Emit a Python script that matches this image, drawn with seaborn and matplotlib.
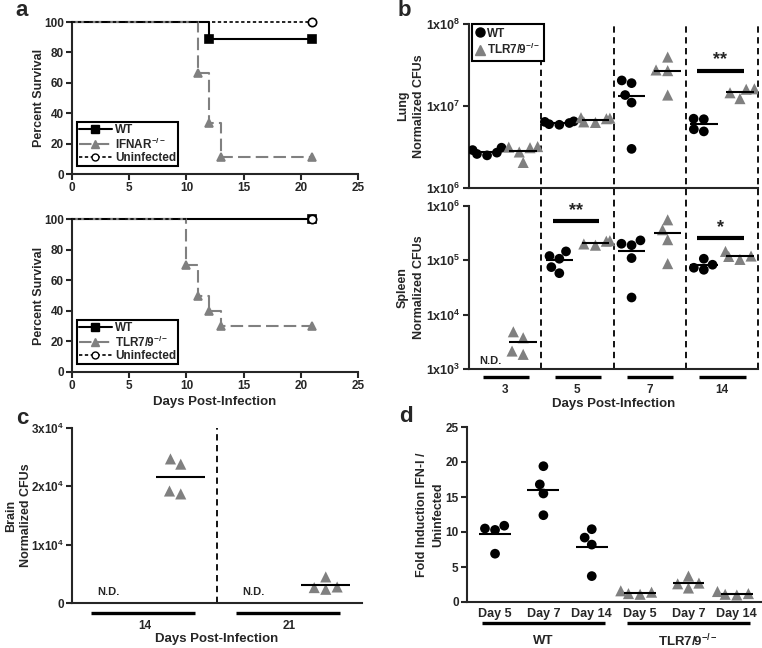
import matplotlib
matplotlib.use('Agg')
import matplotlib.pyplot as plt
import matplotlib.transforms as mtransforms
from matplotlib.lines import Line2D
from matplotlib.markers import MarkerStyle
from matplotlib.ticker import NullLocator
import seaborn as sns
import numpy as np
import pandas as pd

# ---- a: curvas de sobrevida ----
dias_wt_a1 = [0, 12, 21]
surv_wt_a1 = [100, 88.9, 88.9]
dias_ifnar = [0, 11, 12, 13, 21]
surv_ifnar = [100, 66.7, 33.3, 11.1, 11.1]
dias_wt_a2 = [0, 21]
surv_wt_a2 = [100, 100]
dias_tlr_a = [0, 10, 11, 12, 13, 21]
surv_tlr_a = [100, 70, 50, 40, 30, 30]
dias_nao_inf = [0, 21]
surv_nao_inf = [100, 100]

# ---- b: CFUs pulmao / baco ----
dias_b = ['3', '5', '7', '14']
pulmao_wt = [[3.1e6, 2.9e6, 2.7e6, 2.5e6, 2.6e6],
             [6.4e6, 6.2e6, 6.0e6, 6.5e6, 5.9e6],
             [1.36e7, 1.9e7, 2.05e7, 1.1e7, 3.0e6],
             [7.0e6, 6.9e6, 4.9e6, 5.2e6]]
pulmao_tlr = [[3.15e6, 3.2e6, 3.1e6, 2.75e6, 2.05e6],
              [7.2e6, 7.0e6, 6.4e6, 6.3e6, 7.1e6],
              [2.75e7, 3.95e7, 2.7e7, 1.36e7],
              [1.6e7, 1.62e7, 1.23e7, 1.45e7]]
baco_wt = [[],
           [1.2e5, 1.07e5, 1.46e5, 7.5e4, 5.8e4],
           [2.33e5, 2.02e5, 1.9e5, 1.1e5, 2.07e4],
           [8.3e4, 1.07e5, 6.7e4, 7.3e4]]
baco_tlr = [[4.84e3, 3.76e3, 2.14e3, 1.86e3],
            [2.3e5, 2.25e5, 2.0e5, 1.9e5],
            [3.66e5, 5.57e5, 2.4e5, 8.7e4],
            [1.2e5, 1.46e5, 1.04e5, 1.18e5]]
sig_pulmao_grupo = [3]
sig_pulmao_y = [2.7e7]
sig_pulmao_txt = ['**']
sig_baco_grupo = [1, 3]
sig_baco_y = [5.3e5, 2.6e5]
sig_baco_txt = ['**', '*']

# ---- c: CFUs cerebro ----
dias_c = ['14', '21']
cerebro_wt = [[], []]
cerebro_tlr = [[24700, 23800, 18700, 19200],
               [2750, 4470, 2350, 2640]]

# ---- d: inducao IFN-I ----
dias_d = ['Day 5', 'Day 7', 'Day 14']
ifn_wt = [[10.5, 10.3, 10.9, 6.9],
          [19.4, 16.8, 15.5, 12.4],
          [10.4, 9.2, 8.2, 3.7]]
ifn_tlr = [[1.2, 1.6, 1.1, 1.4],
           [3.7, 2.7, 2.6, 2.0],
           [1.2, 1.5, 1.0, 1.1]]

sns.set_style("ticks")
plt.rcParams['font.family'] = ['Liberation Sans', 'DejaVu Sans']
plt.rcParams['font.weight'] = 'bold'
plt.rcParams['axes.labelweight'] = 'bold'
plt.rcParams['mathtext.fontset'] = 'custom'
plt.rcParams['mathtext.rm'] = 'Liberation Sans:bold'
plt.rcParams['mathtext.it'] = 'Liberation Sans:bold'
plt.rcParams['mathtext.bf'] = 'Liberation Sans:bold'

CINZA = '#808080'
cores = {'WT': 'black', 'TLR': CINZA}
tlr_txt = 'TLR7/9$^{-/-}$'

W, H = 762, 648
fig = plt.figure(figsize=(W / 100, H / 100), dpi=100)


def eixo(l, t, r, b):
    return fig.add_axes([l / W, 1 - b / H, (r - l) / W, (b - t) / H])


def estilo(ax, tam=8.5):
    sns.despine(ax=ax)
    for s in ['left', 'bottom']:
        ax.spines[s].set_linewidth(1.5)
    ax.tick_params(width=1.5, length=4, labelsize=tam, pad=2)


def sobrevida(ax, x, y, cor, ls, marker, mfc, lw=1.5):
    sns.lineplot(x=x, y=y, ax=ax, color=cor, drawstyle='steps-post', linestyle=ls,
                 lw=lw, marker=marker, markevery=list(range(1, len(x))), ms=6,
                 markerfacecolor=mfc, markeredgecolor=cor, markeredgewidth=1.2,
                 estimator=None, sort=False, clip_on=False, zorder=3)


def legenda_a(ax, rotulo):
    h = [Line2D([], [], color='black', lw=1.5, marker='s', ms=6),
         Line2D([], [], color=CINZA, lw=1.5, ls=(0, (6, 2.5)), marker='^', ms=6),
         Line2D([], [], color='black', lw=1.2, ls=(0, (2, 1.5)), marker='o', ms=5,
                mfc='white')]
    leg = ax.legend(h, ['WT', rotulo, 'Uninfected'], loc='lower left',
                    bbox_to_anchor=(0.017, 0.053), fancybox=False, edgecolor='black',
                    fontsize=8.5, handlelength=2.8, borderpad=0.15, labelspacing=0.05,
                    handletextpad=0.3, borderaxespad=0, framealpha=1)
    leg.get_frame().set_linewidth(1.5)
    leg.set_zorder(5)


# ---------- painel a ----------
for topo, base, series, rotulo in [
        (22, 174, [(dias_wt_a1, surv_wt_a1), (dias_ifnar, surv_ifnar)], 'IFNAR$^{-/-}$'),
        (219, 372, [(dias_wt_a2, surv_wt_a2), (dias_tlr_a, surv_tlr_a)], tlr_txt)]:
    ax = eixo(72, topo, 358, base)
    (xw, yw), (xk, yk) = series
    sobrevida(ax, xw, yw, 'black', '-', 's', 'black')
    sobrevida(ax, xk, yk, CINZA, (0, (6, 2.5)), '^', CINZA)
    sobrevida(ax, dias_nao_inf, surv_nao_inf, 'black', (0, (2, 1.5)), 'o', 'white', lw=1.2)
    ax.set_xlim(0, 25)
    ax.set_ylim(0, 100)
    ax.set_xticks(range(0, 26, 5))
    ax.set_yticks(range(0, 101, 20))
    ax.set_ylabel('Percent Survival', fontsize=9, labelpad=-1)
    estilo(ax)
    legenda_a(ax, rotulo)
ax.set_xlabel('Days Post-Infection', fontsize=9.5, labelpad=3)


# ---------- helpers de dispersao ----------
desloc = {'WT': -0.25, 'TLR': 0.25}
triangulo = MarkerStyle('^')
path_tri = triangulo.get_path().transformed(triangulo.get_transform())


def tabela(wt, tlr):
    linhas = []
    for i in range(len(wt)):
        for g, vals in (('WT', wt[i]), ('TLR', tlr[i])):
            for v in vals:
                linhas.append({'pos': i + desloc[g], 'gen': g, 'valor': v})
    return pd.DataFrame(linhas)


def pontos(ax, df, meia, tam=7):
    n0 = len(ax.collections)
    sns.swarmplot(data=df, x='pos', y='valor', hue='gen', hue_order=['WT', 'TLR'],
                  palette=cores, native_scale=True, orient='x', size=tam,
                  linewidth=0, ax=ax, legend=False, zorder=3, warn_thresh=1)
    # triangulos para o grupo TLR7/9
    for col in ax.collections[n0:]:
        fc = col.get_facecolor()
        if len(fc) and fc[0][0] > 0.3:
            col.set_paths([path_tri])
            col.set_sizes([(tam + 1) ** 2])
    medias = df.groupby('pos')['valor'].mean()
    for p, m in medias.items():
        ax.hlines(m, p - meia, p + meia, color='black', lw=1.5, zorder=4)


def barras_grupo(ax, inicios, fins, y, lw=2.4):
    tr = mtransforms.blended_transform_factory(ax.transData, ax.transAxes)
    for a, b in zip(inicios, fins):
        ax.plot([a, b], [y, y], transform=tr, color='black', lw=lw, clip_on=False,
                solid_capstyle='butt')


def potencia(v):
    e = int(round(np.log10(v)))
    return '1x10$^{%d}$' % e


# ---------- painel b ----------
axb1 = eixo(469, 24, 758, 188)
axb2 = eixo(469, 206, 758, 369)
for ax, wt, tlr, lims, rot in [(axb1, pulmao_wt, pulmao_tlr, (1e6, 1e8), 'Lung'),
                               (axb2, baco_wt, baco_tlr, (1e3, 1e6), 'Spleen')]:
    ax.set_yscale('log')
    ax.set_ylim(*lims)
    ax.set_xlim(-0.5, 3.5)
    df = tabela(wt, tlr)
    pontos(ax, df, 0.19)
    ax.set_xlim(-0.5, 3.5)
    ax.set_ylim(*lims)
    ticks = [10 ** e for e in range(int(np.log10(lims[0])), int(np.log10(lims[1])) + 1)]
    ax.set_yticks(ticks)
    ax.set_yticklabels([potencia(t) for t in ticks])
    ax.yaxis.set_minor_locator(NullLocator())
    ax.set_ylabel(rot + '\nNormalized CFUs', fontsize=9, labelpad=1, linespacing=1.4)
    estilo(ax, 9)
    ax.set_xticks(range(len(dias_b)))
    ax.set_xticklabels([])
    ax.tick_params(axis='x', length=0)
    ext = -0.11 if ax is axb1 else 0
    for x in np.arange(0.5, 4, 1.0):
        ax.axvline(x, ymin=ext, ymax=1, color='black', lw=1.3, ls=(0, (3.5, 2.5)),
                   clip_on=False, zorder=1)
    ax.set_xlabel('')

for ax, grupos, ys, txts in [(axb1, sig_pulmao_grupo, sig_pulmao_y, sig_pulmao_txt),
                             (axb2, sig_baco_grupo, sig_baco_y, sig_baco_txt)]:
    for g, y, t in zip(grupos, ys, txts):
        ax.hlines(y, g - 0.34, g + 0.3, color='black', lw=3)
        ax.text(g - 0.02, y * 1.08, t, ha='center', va='bottom', fontsize=13)

axb2.text(-0.21, 1.4e3, 'N.D.', ha='center', va='center', fontsize=8)
axb2.set_xticklabels(dias_b, fontsize=8.5)
axb2.tick_params(axis='x', pad=11)
axb2.set_xlabel('Days Post-Infection', fontsize=9.5, labelpad=1)
barras_grupo(axb2, [i - 0.31 for i in range(4)], [i + 0.33 for i in range(4)], -0.049)

hb = [Line2D([], [], ls='none', marker='o', color='black', ms=6.5),
      Line2D([], [], ls='none', marker='^', color=CINZA, ms=7.5)]
legb = axb1.legend(hb, ['WT', tlr_txt], loc='upper left', bbox_to_anchor=(0.01, 1),
                   fancybox=False, edgecolor='black', fontsize=8.5, handlelength=0.8,
                   handletextpad=0.2, borderpad=0.3, labelspacing=0.2, borderaxespad=0,
                   framealpha=1)
legb.get_frame().set_linewidth(1.5)

# ---------- painel c ----------
axc = eixo(72, 428, 362, 603)
axc.set_ylim(0, 3e4)
dfc = tabela(cerebro_wt, cerebro_tlr)
pontos(axc, dfc, 0.17)
axc.set_xlim(-0.5, 1.5)
axc.set_ylim(0, 3e4)
axc.set_yticks([0, 1e4, 2e4, 3e4])
axc.set_yticklabels(['0', '1x10$^{4}$', '2x10$^{4}$', '3x10$^{4}$'])
axc.set_ylabel('Brain\nNormalized CFUs', fontsize=9, labelpad=-1, linespacing=1.35)
estilo(axc, 8.5)
axc.axvline(0.5, color='black', lw=1.3, ls=(0, (3.5, 2.5)), zorder=1)
axc.set_xticks(range(len(dias_c)))
axc.set_xticklabels(dias_c, fontsize=8.5)
axc.tick_params(axis='x', length=0, pad=12)
axc.set_xlabel('Days Post-Infection', fontsize=9.5, labelpad=1)
for i in range(len(dias_c)):
    axc.text(i - 0.25, 1900, 'N.D.', ha='center', va='center', fontsize=8)
barras_grupo(axc, [i - 0.37 for i in range(2)], [i + 0.35 for i in range(2)], -0.057)

# ---------- painel d ----------
axd = eixo(467, 427, 761, 602)
axd.set_ylim(0, 25)
linhas = []
for i in range(len(dias_d)):
    for v in ifn_wt[i]:
        linhas.append({'pos': i, 'gen': 'WT', 'valor': v})
    for v in ifn_tlr[i]:
        linhas.append({'pos': i + len(dias_d), 'gen': 'TLR', 'valor': v})
dfd = pd.DataFrame(linhas)
pontos(axd, dfd, 0.33)
axd.set_xlim(-0.58, 5.5)
axd.set_ylim(0, 25)
axd.set_yticks(range(0, 26, 5))
axd.set_ylabel('Fold Induction IFN-I /\nUninfected', fontsize=9, labelpad=1,
               linespacing=1.5)
estilo(axd)
axd.set_xticks(range(6))
axd.set_xticklabels(dias_d * 2, fontsize=9)
axd.tick_params(axis='x', length=0, pad=4)
axd.set_xlabel('')
barras_grupo(axd, [-0.27, 2.73], [2.27, 5.27], -0.12)
trd = mtransforms.blended_transform_factory(axd.transData, axd.transAxes)
axd.text(1, -0.22, 'WT', transform=trd, ha='center', va='center', fontsize=9.5)
axd.text(4, -0.22, tlr_txt, transform=trd, ha='center', va='center', fontsize=9.5)

# letras dos paineis
for letra, x, y in [('a', 22, 10), ('b', 404, 11), ('c', 22, 418), ('d', 406, 417)]:
    fig.text(x / W, 1 - y / H, letra, ha='center', va='center', fontsize=16,
             fontweight='bold')

plt.savefig('out.png', dpi=100)
